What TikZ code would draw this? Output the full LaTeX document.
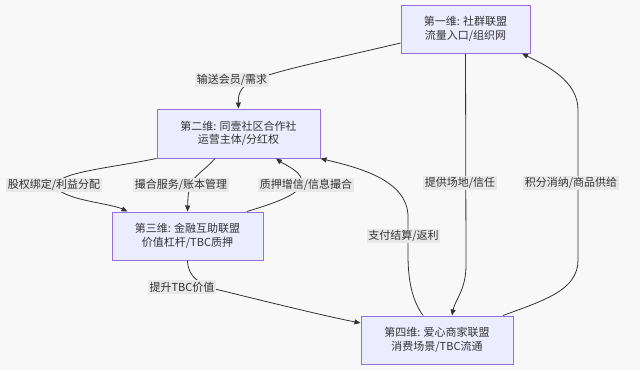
\documentclass[tikz,border=0pt]{standalone}
\usepackage{fontspec}
\setmainfont{Noto Sans CJK SC}
\usetikzlibrary{arrows.meta,calc}
\definecolor{bg}{HTML}{F8F8F8}
\definecolor{nodefill}{HTML}{ECECFF}
\definecolor{nodeline}{HTML}{9370DB}
\definecolor{ink}{HTML}{333333}
\definecolor{labbg}{HTML}{E8E8E8}
\tikzset{
  box/.style={draw=nodeline, fill=nodefill, line width=1pt, text=ink,
    align=center, minimum height=48pt, inner sep=0pt,
    font=\fontsize{11}{13.5}\selectfont},
  edge/.style={draw=ink, line width=0.8pt, -{Triangle[length=6pt,width=5pt]}},
  lab/.style={fill=labbg, text=ink, inner xsep=1.5pt, inner ysep=1.5pt,
    font=\fontsize{11}{13}\selectfont}
}
\begin{document}
\begin{tikzpicture}[x=1pt,y=-1pt]
\fill[bg] (0,0) rectangle (640,370);
\useasboundingbox (0,0) rectangle (640,370);

\node[box, minimum width=129pt] (n1) at (465.5,29) {第一维: 社群联盟\\流量入口/组织网};
\node[box, minimum width=163pt, minimum height=49pt] (n2) at (238.5,133.5) {第二维: 同壹社区合作社\\运营主体/分红权};
\node[box, minimum width=151pt] (n3) at (187.5,236) {第三维: 金融互助联盟\\价值杠杆/TBC质押};
\node[box, minimum width=152pt] (n4) at (437,340) {第四维: 爱心商家联盟\\消费场景/TBC流通};

% 1 -> 2
\draw[edge] ([yshift=-14pt]n1.west) .. controls (320,62) and (270,72) .. (250,82)
  .. controls (240,88) and (238,95) .. (n2.north);
\node[lab] (l12) at (232,80) {输送会员/需求};

% 2 -> 3 (left)
\draw[edge] (n2.south west) .. controls (110,168) and (60,172) .. (55,185)
  .. controls (60,200) and (110,203) .. ([xshift=16pt]n3.north west);
\node[lab] (l23a) at (54,185) {股权绑定/利益分配};

% 2 -> 3 (middle)
\draw[edge] ([xshift=-23.5pt]n2.south) .. controls (205,170) and (193,176) .. (190,186)
  .. controls (188,195) .. (n3.north);
\node[lab] (l23b) at (181,185) {撮合服务/账本管理};

% 3 -> 2
\draw[edge] ([xshift=59.5pt]n3.north) .. controls (275,203) and (298,195) .. (302,184)
  .. controls (304,172) and (285,165) .. ([xshift=37.5pt]n2.south);
\node[lab] (l32) at (306,185) {质押增信/信息撮合};

% 4 -> 2
\draw[edge] ([xshift=-14pt]n4.north) .. controls (412,300) and (408,280) .. (408,255)
  -- (408,215) .. controls (406,180) and (360,168) .. (n2.south east);
\node[lab] (l42) at (403.5,236) {支付结算/返利};

% 1 -> 4
\draw[edge] (n1.south) -- (466,265) .. controls (466,290) and (455,300) .. ([xshift=15pt]n4.north);
\node[lab] (l14) at (460,183) {提供场地/信任};

% 4 -> 1
\draw[edge] ([xshift=66pt]n4.north) .. controls (545,300) and (578,290) .. (578,260)
  -- (578,110) .. controls (578,80) and (545,65) .. ([xshift=56.5pt]n1.south);
\node[lab] (l41) at (571,183) {积分消纳/商品供给};

% 3 -> 4
\draw[edge] (n3.south) .. controls (188,278) and (200,283) .. (215,289)
  .. controls (260,300) and (320,315) .. ([yshift=17pt]n4.west);
\node[lab] (l34) at (182,287) {提升TBC价值};
\end{tikzpicture}
\end{document}
